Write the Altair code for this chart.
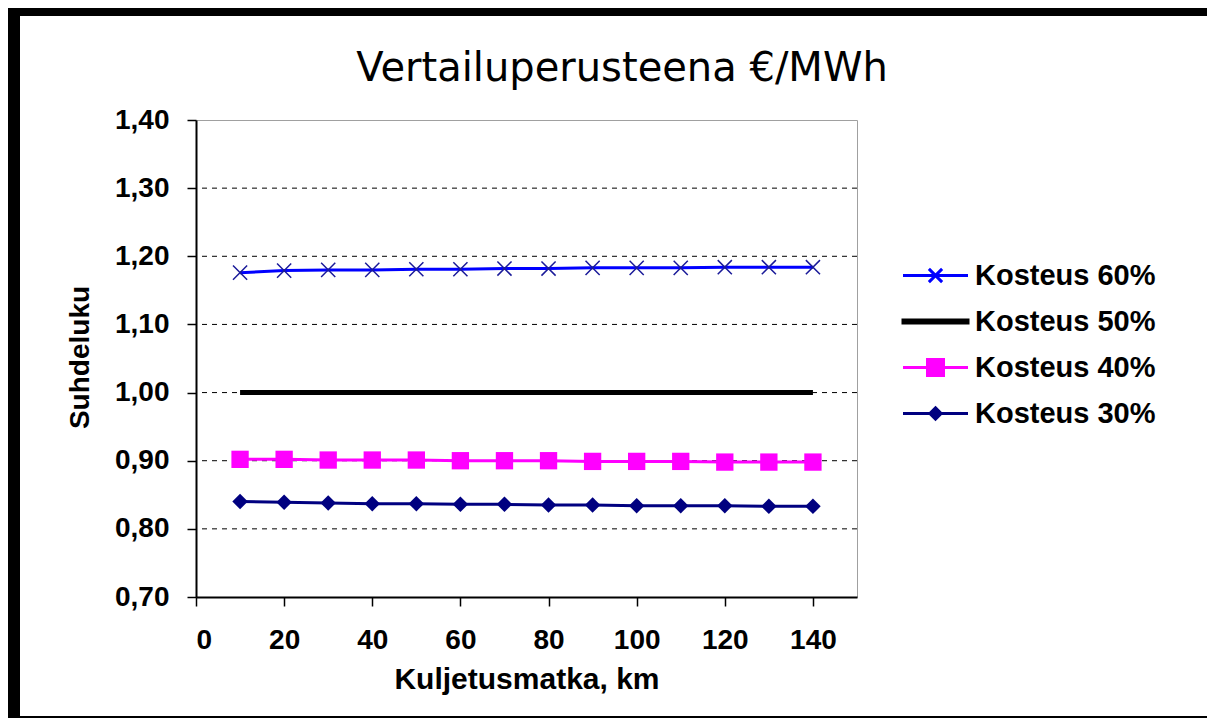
import altair as alt
import pandas as pd

# ---- data ----
distance_km = [10, 20, 30, 40, 50, 60, 70, 80, 90, 100, 110, 120, 130, 140]
kosteus_60 = [1.176, 1.179, 1.180, 1.180, 1.181, 1.181, 1.182, 1.182, 1.183, 1.183, 1.183, 1.184, 1.184, 1.184]
kosteus_50 = [1.000, 1.000, 1.000, 1.000, 1.000, 1.000, 1.000, 1.000, 1.000, 1.000, 1.000, 1.000, 1.000, 1.000]
kosteus_40 = [0.902, 0.902, 0.901, 0.901, 0.901, 0.900, 0.900, 0.900, 0.899, 0.899, 0.899, 0.898, 0.898, 0.898]
kosteus_30 = [0.840, 0.839, 0.838, 0.837, 0.837, 0.836, 0.836, 0.835, 0.835, 0.834, 0.834, 0.834, 0.833, 0.833]
series_names = ["Kosteus 60%", "Kosteus 50%", "Kosteus 40%", "Kosteus 30%"]
series_colors = ["#0000ff", "#000000", "#ff00ff", "#000080"]
grid_values = [0.8, 0.9, 1.0, 1.1, 1.2, 1.3]
y_ticks = [0.7, 0.8, 0.9, 1.0, 1.1, 1.2, 1.3, 1.4]
x_ticks = [0, 20, 40, 60, 80, 100, 120, 140]
chart_title = "Vertailuperusteena €/MWh"

rows = []
for name, vals in zip(series_names, [kosteus_60, kosteus_50, kosteus_40, kosteus_30]):
    for x, v in zip(distance_km, vals):
        rows.append({"x": x, "value": v, "series": name})
df = pd.DataFrame(rows)
grid_df = pd.DataFrame({"g": grid_values})

FONT = "Liberation Sans, Arial, sans-serif"

xscale = alt.Scale(domain=[0, 150], nice=False, zero=False)
yscale = alt.Scale(domain=[0.7, 1.4], nice=False, zero=False)

x_axis = alt.Axis(
    values=x_ticks, title="Kuljetusmatka, km", grid=False,
    domainColor="black", domainWidth=2, tickColor="black", tickSize=9, tickWidth=1.5,
    labelFont=FONT, labelFontSize=28, labelFontWeight="bold", labelColor="black", labelPadding=20,
    titleFont=FONT, titleFontSize=30, titleFontWeight="bold", titleColor="black", titlePadding=10,
)
y_axis = alt.Axis(
    values=y_ticks, title="Suhdeluku", grid=False,
    labelExpr="replace(format(datum.value, '.2f'), '.', ',')",
    domainColor="black", domainWidth=2, tickColor="black", tickSize=9, tickWidth=1.5,
    labelFont=FONT, labelFontSize=28, labelFontWeight="bold", labelColor="black", labelPadding=18,
    titleFont=FONT, titleFontSize=28, titleFontWeight="bold", titleColor="black",
    titleAngle=270, titleX=-116, titleY=237, titleAlign="center", titleBaseline="middle",
)

grid = alt.Chart(grid_df).mark_rule(color="black", strokeDash=[5, 5], strokeWidth=1).encode(
    y=alt.Y("g:Q", scale=yscale, axis=y_axis, title="Suhdeluku")
)

def line_layer(name, color, width):
    return alt.Chart(df).transform_filter(alt.datum.series == name).mark_line(
        color=color, strokeWidth=width
    ).encode(
        x=alt.X("x:Q", scale=xscale, axis=x_axis, title="Kuljetusmatka, km"),
        y=alt.Y("value:Q", scale=yscale, axis=y_axis, title="Suhdeluku"),
    )

def point_layer(name, color, shape, size, filled, sw=1.5):
    return alt.Chart(df).transform_filter(alt.datum.series == name).mark_point(
        color=color, shape=shape, size=size, filled=filled, strokeWidth=sw, opacity=1
    ).encode(
        x=alt.X("x:Q", scale=xscale, axis=x_axis, title="Kuljetusmatka, km"),
        y=alt.Y("value:Q", scale=yscale, axis=y_axis, title="Suhdeluku"),
    )

X_PATH = "M-1,-1L1,1M-1,1L1,-1"

l60 = line_layer("Kosteus 60%", "#0000ff", 3)
l50 = line_layer("Kosteus 50%", "#000000", 5)
l40 = line_layer("Kosteus 40%", "#ff00ff", 3)
l30 = line_layer("Kosteus 30%", "#000080", 3)
p60 = point_layer("Kosteus 60%", "#1a1a99", X_PATH, 200, False, 1.5)
p40 = point_layer("Kosteus 40%", "#ff00ff", "square", 300, True)
p30 = point_layer("Kosteus 30%", "#000080", "diamond", 240, True)

# legend symbols: sqrt(1600)=40px unit box; paths stretch to 65px wide lines
legend_paths = [
    "M-1.625,0H1.625M-0.33,-0.33L0.33,0.33M-0.33,0.33L0.33,-0.33",
    "M-1.625,-0.08H1.625V0.08H-1.625Z",
    "M-1.625,0H1.625M-0.4,-0.4H0.4V0.4H-0.4Z",
    "M-1.625,0H1.625M0,-0.28L0.28,0L0,0.28L-0.28,0Z",
]
leg = alt.Legend(
    title=None, orient="none", legendX=718, legendY=134,
    labelFont=FONT, labelFontSize=29, labelFontWeight="bold", labelColor="black", labelLimit=400,
    symbolSize=1600, symbolStrokeWidth=3, labelOffset=18, rowPadding=9,
)
legend_layer = alt.Chart(df).transform_filter("false").mark_point(
    filled=True, size=1600, strokeWidth=3, opacity=1
).encode(
    shape=alt.Shape("series:N", scale=alt.Scale(domain=series_names, range=legend_paths), legend=leg),
    color=alt.Color("series:N", scale=alt.Scale(domain=series_names, range=series_colors), legend=leg),
    stroke=alt.Stroke("series:N", scale=alt.Scale(domain=series_names, range=series_colors), legend=leg),
)

one = pd.DataFrame({"t": [chart_title]})
title_mark = alt.Chart(one).mark_text(
    font="DejaVu Sans", fontSize=40, color="black", align="center", baseline="alphabetic"
).encode(text="t:N", x=alt.value(426), y=alt.value(-39))

frame_top = alt.Chart(one).mark_rect(color="black").encode(
    x=alt.value(-188), x2=alt.value(1011), y=alt.value(-112), y2=alt.value(-104)
)
frame_left = alt.Chart(one).mark_rect(color="black").encode(
    x=alt.value(-188), x2=alt.value(-176), y=alt.value(-112), y2=alt.value(598)
)
frame_bottom = alt.Chart(one).mark_rect(color="black").encode(
    x=alt.value(-188), x2=alt.value(1011), y=alt.value(596), y2=alt.value(598)
)

chart = alt.layer(
    grid, l60, l50, l40, l30, p60, p40, p30, legend_layer, title_mark,
    frame_top, frame_left, frame_bottom
).properties(
    width=661, height=477,
    autosize=alt.AutoSizeParams(type="none"),
    padding={"left": 188, "top": 112, "right": 350, "bottom": 121},
    background="white",
).configure_view(stroke="#a0a0a0", strokeWidth=1)

chart.save("out.html", embed_options={"renderer": "svg", "actions": False})
